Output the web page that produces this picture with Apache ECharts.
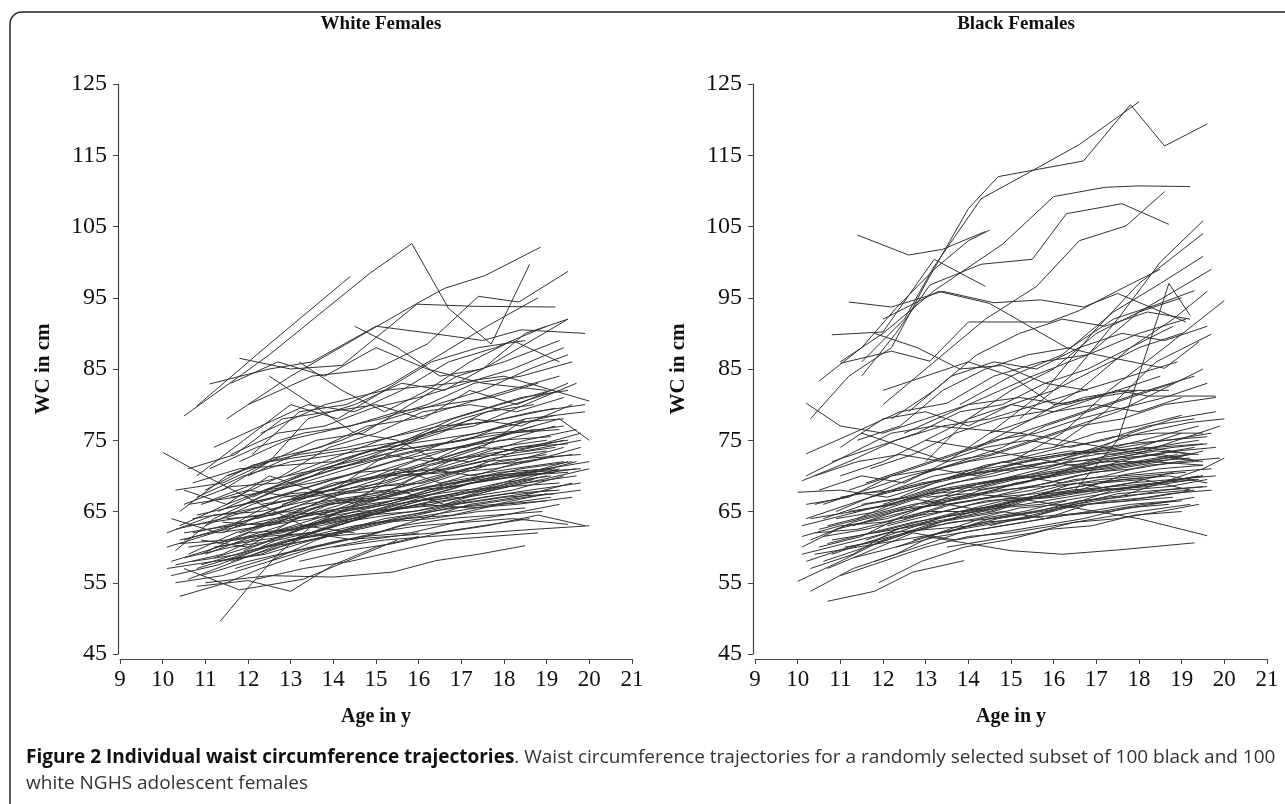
<!DOCTYPE html>
<html>
<head>
<meta charset="utf-8">
<script src="https://cdn.jsdelivr.net/npm/echarts@6/dist/echarts.min.js"></script>
<style>
html,body{margin:0;padding:0;background:#fff;}
#chart{width:1285px;height:804px;}
</style>
</head>
<body>
<div id="chart"></div>
<script>
// ---------- DATA ----------
const panelTitles = ["White Females", "Black Females"];
const xTicks = [9,10,11,12,13,14,15,16,17,18,19,20,21];
const yTicks = [45,55,65,75,85,95,105,115,125];
const xAxisTitle = "Age in y";
const yAxisTitle = "WC in cm";
const captionBold = "Figure 2 Individual waist circumference trajectories";
const captionRest = ". Waist circumference trajectories for a randomly selected subset of 100 black and 100";
const captionLine2 = "white NGHS adolescent females";

// each trajectory: [age, waist circumference]
const whiteTrajectories = [
[[10.5,78.4],[12.5,87],[14.85,98.4],[15.84,102.6],[16.7,93.5],[17.7,88.5],[18.6,99.7]],
[[10.8,79.8],[12.4,88],[14.4,98]],
[[11.5,78],[13,84],[14.85,90.4],[15.96,94.2],[16.6,96.3],[17.55,98.1],[18.86,102.1]],
[[11.8,86.5],[13,85],[14.2,85.5],[15.96,94.1],[17.3,93.8],[19.2,93.7]],
[[12,80],[13.5,84],[15,85],[16.2,88.5],[17.4,95.2],[18.35,94.4],[19.5,98.7]],
[[11.1,82.9],[12.5,85],[13.5,86],[15,91],[16.3,90],[17.5,89],[18.4,90.5],[19.9,90]],
[[12.3,76],[13.8,80],[15.2,82],[16.8,83],[18,84],[20,80.5]],
[[10.0,73.3],[11,70],[12.3,66],[13.3,63],[14.5,62]],
[[11.35,49.6],[12,54.3],[12.7,59],[13.5,63],[14.5,66],[15.5,68]],
[[10.4,53.1],[11.5,55],[12.3,57],[13.5,59.5],[14.8,61],[16,62]],
[[11,55],[12.5,56],[14,55.8],[15.4,56.5],[16.4,58.1],[17.4,59],[18.5,60.2]],
[[10.8,54.5],[12,55.3],[13,53.8],[14,57.5],[15,60],[16,61.5]],
[[10.5,57],[11.8,54],[13.3,55.5],[14.3,58],[15.5,61]],
[[10.3,59.5],[11.2,64],[12.3,67],[13.5,70],[14.6,72],[15.8,75],[17,78],[18.2,80],[19.3,82]],
[[10.4,65],[11.5,70],[12.5,72],[13.4,78],[14.5,80],[15.6,83],[16.6,82],[17.8,86],[19.5,92]],
[[10.5,62],[11.6,63],[12.8,67],[14,68],[15,72],[16.2,76],[17.3,77],[18.5,80],[19.7,83]],
[[10.6,60],[11.7,61],[12.8,63],[13.9,66],[15,67],[16,70],[17.2,72],[18.3,74],[19.5,75]],
[[10.7,58],[11.8,59],[12.9,61],[14,62],[15.2,64],[16.3,65],[17.4,66],[18.5,67],[19.8,68]],
[[10.2,56],[11.3,57.5],[12.4,60],[13.5,61],[14.6,63],[15.7,64],[16.8,64.5],[17.9,66],[19,66.5]],
[[10.9,61],[12,60],[13.1,64],[14.2,66],[15.3,69],[16.4,71],[17.5,73],[18.6,74],[19.8,76]],
[[11,63],[12.1,66],[13.2,68],[14.3,70],[15.4,72],[16.5,73.5],[17.6,75],[18.7,77]],
[[10.3,57.5],[11.4,59],[12.5,62],[13.6,64],[14.7,66],[15.8,68],[16.9,69],[18,70],[19.2,71]],
[[11.2,60],[12.3,61],[13.4,62],[14.5,61],[15.6,63],[16.7,64],[17.8,64.5],[18.9,65]],
[[10.6,66],[11.7,67],[12.8,70],[13.9,74],[15,76],[16.1,79],[17.2,80],[18.3,79],[19.4,81]],
[[11.4,68],[12.5,72],[13.6,75],[14.7,76],[15.8,80],[16.9,84],[18,86],[19.3,89]],
[[10.8,70],[11.9,75],[13,80],[14.1,78],[15.2,82],[16.3,86],[17.4,88],[18.5,89]],
[[12.1,73],[13.2,79],[14.3,80],[15.4,83],[16.5,87],[17.6,91],[18.8,95]],
[[10.7,64],[11.8,65],[12.9,66.5],[14,69],[15.1,70],[16.2,71],[17.3,70],[18.4,72],[19.6,73]],
[[10.4,61],[11.5,62.5],[12.6,64],[13.7,65],[14.8,66],[15.9,67],[17,68],[18.1,68.5],[19.3,69]],
[[11.6,58],[12.7,60],[13.8,61.5],[14.9,62],[16,63],[17.1,63.5],[18.2,64],[19.5,63.2]],
[[10.9,56],[12,58],[13.1,59.5],[14.2,61],[15.3,61.5],[16.4,62],[17.5,63],[18.6,64]],
[[11.8,62],[12.9,64],[14,65],[15.1,66],[16.2,68],[17.3,69],[18.4,70],[19.7,72]],
[[10.1,60],[11.2,62],[12.3,64.5],[13.4,67],[14.5,68],[15.6,70],[16.7,70.5],[17.8,71],[19,72.5]],
[[11.3,65],[12.4,68],[13.5,69],[14.6,70.5],[15.7,71],[16.8,73],[17.9,75],[19.1,75.5]],
[[12.2,64],[13.3,66],[14.4,67],[15.5,68],[16.6,66],[17.7,68],[18.9,69.5],[20,71]],
[[10.5,58.5],[11.6,60],[12.7,61],[13.8,62.5],[14.9,64.5],[16,66],[17.1,67],[18.2,68],[19.4,70]],
[[11.1,71],[12.2,74],[13.3,76],[14.4,77],[15.5,79],[16.6,80],[17.7,81],[18.8,83]],
[[10.8,67],[11.9,70],[13,72],[14.1,73],[15.2,74],[16.3,75],[17.4,76],[18.5,78],[19.9,79]],
[[12.4,68],[13.5,70],[14.6,73],[15.7,75],[16.8,78],[17.9,80],[19.1,82]],
[[11.5,64],[12.6,64.5],[13.7,67],[14.8,69],[15.9,71],[17,74],[18.1,76],[19.3,78],[20,75]],
[[10.6,63],[11.7,64],[12.8,65],[13.9,64.5],[15,66],[16.1,67.5],[17.2,69],[18.3,70],[19.5,70.5]],
[[11.9,66],[13,69],[14.1,71],[15.2,73],[16.3,72],[17.4,74],[18.5,73.5],[19.8,75]],
[[10.3,55],[11.4,56],[12.5,58],[13.6,60],[14.7,61.5],[15.8,62],[16.9,63.5],[18,64.5],[19.3,66]],
[[11.7,57],[12.8,59],[13.9,60.5],[15,62],[16.1,64],[17.2,66],[18.3,67],[19.6,69]],
[[10.2,64],[11.3,62],[12.4,63],[13.5,64],[14.6,65],[15.7,65.5],[16.8,66],[17.9,67],[19.1,68]],
[[12.3,60],[13.4,63],[14.5,65],[15.6,66.5],[16.7,68],[17.8,70],[19,71],[20,72]],
[[11,59],[12.1,61.5],[13.2,63],[14.3,64],[15.4,66],[16.5,67],[17.6,68],[18.7,69.5]],
[[10.7,69],[11.8,71],[12.9,71.5],[14,72],[15.1,74],[16.2,76],[17.3,78],[18.4,77],[19.6,80]],
[[11.4,62],[12.5,65],[13.6,68],[14.7,70],[15.8,72],[16.9,74],[18,75],[19.2,77]],
[[10.9,66],[12,68],[13.1,67],[14.2,69],[15.3,70],[16.4,70.5],[17.5,72],[18.6,72.5],[19.8,73]],
[[12,70],[13.1,73],[14.2,75],[15.3,78],[16.4,80],[17.5,82],[18.6,85],[19.5,87]],
[[11.2,74],[12.3,77],[13.4,80],[14.5,79],[15.6,82],[16.7,86],[17.8,88],[19,91]],
[[10.5,61],[11.6,63],[12.7,63.5],[13.8,66],[14.9,67.5],[16,69],[17.1,71],[18.2,72],[19.4,74]],
[[12.6,62],[13.7,63],[14.8,64.5],[15.9,65],[17,66.5],[18.1,67.5],[19.3,68]],
[[10.8,57],[11.9,59],[13,61],[14.1,62],[15.2,63.5],[16.3,64],[17.4,65],[18.5,65.5]],
[[11.6,67],[12.7,68],[13.8,70],[14.9,72],[16,73.5],[17.1,74],[18.2,76],[19.4,77]],
[[10.3,68],[11.4,69],[12.5,72],[13.6,73],[14.7,74],[15.8,75],[16.9,77],[18,78],[19.2,79.5]],
[[13,61],[14.1,63],[15.2,65],[16.3,67],[17.4,68],[18.5,70],[19.7,71]],
[[11.3,60.5],[12.4,63],[13.5,64.5],[14.6,66],[15.7,68],[16.8,70],[17.9,72],[19,73]],
[[10.6,55.5],[11.7,58],[12.8,60.5],[13.9,63],[15,65],[16.1,67],[17.2,69],[18.3,70],[19.5,72]],
[[12.5,58],[13.6,61],[14.7,63],[15.8,64.5],[16.9,66],[18,67],[19.2,67.5]],
[[11,68],[12.1,71.5],[13.2,73],[14.3,74],[15.4,75.5],[16.5,77],[17.6,77.5],[18.7,79],[19.9,80]],
[[10.4,63],[11.5,66],[12.6,68.5],[13.7,71],[14.8,72.5],[15.9,74],[17,75],[18.1,76],[19.3,76.5]],
[[11.8,72],[12.9,75],[14,76.5],[15.1,78],[16.2,80],[17.3,83],[18.4,84],[19.6,86]],
[[10.9,59],[12,62],[13.1,62.5],[14.2,65],[15.3,66],[16.4,68],[17.5,70],[18.6,70.5],[19.8,71]],
[[12.2,55.5],[13.3,57],[14.4,58],[15.5,59.5],[16.6,61],[17.7,61.5],[18.8,62]],
[[14,60],[15.2,61],[16.3,61.5],[17.5,62],[18.7,62.5],[20,63]],
[[13.2,58],[14.3,59.5],[15.4,60.5],[16.5,62],[17.6,63],[18.8,64.5],[19.9,63]],
[[11.5,70],[12.6,72.5],[13.7,74],[14.8,77],[15.9,78],[17,80],[18.1,82],[19.3,84]],
[[10.1,62],[11.2,64.5],[12.3,65],[13.4,66.5],[14.5,68],[15.6,69],[16.7,72],[17.8,74],[19,75]],
[[12.8,66],[13.9,68],[15,70],[16.1,72.5],[17.2,72],[18.3,74],[19.5,74.5]],
[[11.7,61],[12.8,62],[13.9,64],[15,65],[16.1,66],[17.2,65.5],[18.3,66],[19.6,67]],
[[10.6,71],[11.7,73],[12.8,78],[13.9,79],[15,80],[16.1,78],[17.2,82],[18.3,80],[19.5,83]],
[[12.1,67],[13.2,70],[14.3,72],[15.4,74],[16.5,76],[17.6,79],[18.7,80]],
[[11.3,58],[12.4,59],[13.5,61],[14.6,62.5],[15.7,64],[16.8,65],[17.9,66],[19.1,67]],
[[11.6,83],[12.7,86],[13.8,84],[15,88],[16.2,85],[17.5,83],[19,82]],
[[12.5,84],[13.5,80],[14.5,76],[15.5,75],[16.5,72],[17.5,74],[18.5,78]],
[[10.5,68],[11.5,66],[12.5,70],[13.5,68],[14.5,66],[15.5,71],[16.5,69],[17.5,70]],
[[14.5,91],[15.5,88],[16.5,84],[17.5,85],[18.5,90],[19.5,92]],
[[13.2,86],[14.2,82],[15.2,79],[16.2,82],[17.2,86],[18.2,89],[19.3,86]],
[[10.3,62.5],[11.4,64],[12.5,66],[13.6,67.5],[14.7,69.5],[15.8,71],[16.9,72.5],[18,73],[19.2,74]],
[[10.8,64.5],[11.9,66],[13,67.5],[14.1,68],[15.2,69],[16.3,71.5],[17.4,73],[18.5,75],[19.7,76.5]],
[[11.2,58.5],[12.3,60.5],[13.4,63],[14.5,64],[15.6,65.5],[16.7,67],[17.8,68.5],[19,70]],
[[10.6,59],[11.7,62],[12.8,64],[13.9,67],[15,68.5],[16.1,69],[17.2,71],[18.3,73.5],[19.4,75]],
[[12,62.5],[13.1,65],[14.2,67.5],[15.3,68],[16.4,70],[17.5,71.5],[18.6,72],[19.8,74]],
[[10.4,60.5],[11.5,61],[12.6,62],[13.7,63.5],[14.8,65],[15.9,66.5],[17,67],[18.1,69],[19.3,71]],
[[11.5,65.5],[12.6,67],[13.7,69],[14.8,71],[15.9,73],[17,75.5],[18.1,77],[19.2,78.5]],
[[10.9,57.5],[12,59.5],[13.1,61],[14.2,63.5],[15.3,64.5],[16.4,65.5],[17.5,67],[18.6,68],[19.8,69]],
[[12.7,64],[13.8,66],[14.9,66.5],[16,68],[17.1,70],[18.2,71],[19.4,72]],
[[10.2,58],[11.3,60],[12.4,61.5],[13.5,62],[14.6,64],[15.7,66],[16.8,67.5],[17.9,69],[19.1,70]],
[[11.1,66.5],[12.2,69],[13.3,70.5],[14.4,71.5],[15.5,73],[16.6,74.5],[17.7,76],[18.8,76.5]],
[[13.5,64],[14.6,66.5],[15.7,67],[16.8,69],[17.9,70.5],[19.1,71]],
[[10.7,62],[11.8,63.5],[12.9,65],[14,66.5],[15.1,67],[16.2,68.5],[17.3,69.5],[18.4,71],[19.6,72]],
[[11.9,59.5],[13,62],[14.1,64],[15.2,65],[16.3,66],[17.4,67.5],[18.5,69],[19.7,70]],
[[10.5,66],[11.6,68.5],[12.7,69],[13.8,71.5],[14.9,73.5],[16,74],[17.1,75],[18.2,77.5],[19.4,78]],
[[12.3,66],[13.4,67],[14.5,69],[15.6,70.5],[16.7,71],[17.8,72.5],[19,73.5]],
[[11.4,63.5],[12.5,63],[13.6,65.5],[14.7,67],[15.8,68],[16.9,68.5],[18,70],[19.2,70.5]],
[[10.1,57],[11.2,58],[12.3,59],[13.4,61.5],[14.5,63],[15.6,64],[16.7,65.5],[17.8,66],[19,67.5]],
[[12.9,70],[14,72.5],[15.1,75],[16.2,77],[17.3,79],[18.4,81],[19.5,82]],
[[11.6,73],[12.7,76],[13.8,77],[14.9,79.5],[16,81],[17.1,83],[18.2,85],[19.4,88]]
];

const blackTrajectories = [
[[10.3,78],[11.2,84],[12.2,88],[13,97],[14,107.5],[14.7,112],[16.7,114.2],[17.8,122.1],[18.6,116.3],[19.6,119.4]],
[[11.5,86],[12.5,92],[13.2,99.4],[14.3,108.9],[15.4,112.5],[16.6,116.5],[18,122.5]],
[[11,86],[12,90],[13.2,96],[14.8,102.5],[16,109.2],[17.2,110.5],[18,110.7],[19.2,110.6]],
[[11.5,84],[12.3,90],[13.1,96.8],[14.3,99.7],[15.5,100.4],[16.3,106.8],[17.6,108.2],[18.7,105.3]],
[[12,80],[13.2,86],[14.4,92],[15.6,96.6],[16.6,103],[17.7,105.1],[18.6,109.9]],
[[11.4,103.8],[12.6,101],[13.4,101.8],[14.4,104.3]],
[[10.8,89.8],[12,90.2],[13.2,100.4],[14.4,96.6]],
[[11.2,94.4],[12.2,93.7],[13.4,95.9],[14.6,94.3],[15.7,94.7],[16.7,93.7],[17.5,95.6],[19.1,91.6]],
[[15.2,78],[16.4,84],[17.5,92],[18.5,100],[19.5,105.8]],
[[14.5,76],[15.8,82],[16.9,90],[18,97],[19.5,104]],
[[13.8,80],[15,84],[16.2,87],[17.4,93],[18.5,97],[19.5,100.8]],
[[12.5,76],[14,80],[15.5,84],[16.8,87],[18,93],[19.7,99]],
[[14.2,74],[15.5,78],[16.6,82],[17.8,88],[18.8,92],[19.6,95.9]],
[[15,72],[16.2,76],[17.3,82],[18.6,88],[20,94.6]],
[[16,74],[17.2,79],[18.4,86],[19.7,89.9]],
[[16.5,68],[17.5,75],[18.7,97],[19.2,92.5]],
[[10.5,83.3],[11.5,88],[12.3,93.5],[13.2,99],[14,103],[14.5,104.5]],
[[11,85.8],[12.2,87.5],[13.1,86.1],[14,91.6],[15.9,91.6],[16.6,93.2],[17.5,96],[18.5,99]],
[[12,92],[13.3,95.9],[14.5,94.2],[16.3,88],[17,87],[18.6,85.1],[19.4,88.8]],
[[10.2,80.2],[11,77],[12,76],[13,78],[14,80],[15.2,81],[16.3,80],[17.5,82],[18.2,81.2],[19.8,81.2]],
[[10.2,73.1],[11.3,76],[12.4,79],[13.5,80.2],[14.6,84],[15.7,86],[16.8,87],[18,90],[19.1,92]],
[[10.1,69.3],[11.2,72],[12.3,75],[13.4,77],[14.5,78],[15.6,80],[16.7,82],[17.8,84],[18.9,86]],
[[10,67.7],[11,68],[12.1,67],[13.2,69],[14.3,70.5],[15.4,71],[16.5,72],[17.6,73],[18.8,74],[19.6,74.5]],
[[10,55.2],[11,58],[12,61],[13,63],[14,64.5],[15,66]],
[[10.3,53.8],[11.3,57],[12.3,59],[13.3,62],[14.3,64],[15.3,65],[16.3,66.5]],
[[10.7,52.4],[11.8,53.8],[12.7,56.5],[13.9,58.1]],
[[13,61.5],[14,60.5],[15,59.5],[16.2,59],[17.5,59.6],[19.3,60.6]],
[[10.1,60],[11.1,63],[12.1,64],[13.1,66],[14.1,67],[15.1,69],[16.1,70],[17.1,71],[18.1,72],[19.2,73]],
[[10.4,62],[11.4,62.5],[12.4,64],[13.4,65],[14.4,66.5],[15.4,67],[16.4,68],[17.4,68.5],[18.4,69],[19.5,70]],
[[10.6,58],[11.6,60],[12.6,62],[13.6,63.5],[14.6,64],[15.6,65],[16.6,66.5],[17.6,67],[18.6,68],[19.6,68.5]],
[[10.2,64],[11.2,66],[12.2,68],[13.2,70],[14.2,71],[15.2,72.5],[16.2,74],[17.2,75],[18.2,77],[19.3,78]],
[[10.8,61],[11.8,62],[12.8,63],[13.8,64],[14.8,65],[15.8,64],[16.8,66],[17.8,66.5],[18.8,67]],
[[11,56],[12,58],[13,60],[14,61.5],[15,62],[16,63],[17,64],[18,65],[19.2,66]],
[[10.5,60],[11.5,61.5],[12.5,64.5],[13.5,67],[14.5,69],[15.5,70],[16.5,71],[17.5,72.5],[18.5,73],[19.5,72]],
[[11.3,63],[12.3,65],[13.3,66],[14.3,68],[15.3,69],[16.3,70.5],[17.3,71],[18.3,72],[19.5,71.5]],
[[10.3,57],[11.3,59],[12.3,62.5],[13.3,64],[14.3,65.5],[15.3,66],[16.3,67],[17.3,68],[18.4,69],[19.4,69.5]],
[[10.9,65],[11.9,67.5],[12.9,69],[13.9,70],[14.9,71],[15.9,72],[16.9,71],[17.9,72],[18.9,73]],
[[11.6,61],[12.6,63],[13.6,64],[14.6,65],[15.6,67],[16.6,68],[17.6,70],[18.6,70.5],[19.7,71]],
[[10.1,59],[11.1,60.5],[12.1,62],[13.1,62.5],[14.1,63],[15.1,64],[16.1,64.5],[17.1,65],[18.1,66],[19,66.5]],
[[10.4,70],[11.4,72],[12.4,73],[13.4,72],[14.4,74],[15.4,75],[16.4,74],[17.4,75.5],[18.4,76],[19.5,76]],
[[12,66],[13,68],[14,69.5],[15,71],[16,72],[17,74],[18,76],[19.2,77.5],[20,78]],
[[10.7,63],[11.7,64.5],[12.7,66],[13.7,67],[14.7,68],[15.7,68.5],[16.7,69],[17.7,69.5],[18.7,70],[19.6,69]],
[[11.8,58],[12.8,60],[13.8,62],[14.8,63],[15.8,64],[16.8,65],[17.8,66],[18.8,66.5]],
[[10.2,66],[11.2,67],[12.2,70],[13.2,72],[14.2,74],[15.2,76],[16.2,78],[17.2,80],[18.2,82],[19.3,84]],
[[11,70],[12,72],[13,75],[14,78],[15,80],[16,82],[17,85],[18,88],[19,90]],
[[10.6,66],[11.6,68],[12.6,70],[13.6,71.5],[14.6,73],[15.6,75],[16.6,77],[17.6,78],[18.6,80],[19.8,81]],
[[12.5,64],[13.5,66],[14.5,67],[15.5,68.5],[16.5,70],[17.5,71],[18.5,72],[19.5,73.5]],
[[11.2,68],[12.2,70],[13.2,71],[14.2,70],[15.2,72],[16.2,73],[17.2,73.5],[18.2,74],[19.3,73]],
[[10.8,72],[11.8,74],[12.8,76],[13.8,79],[14.8,80],[15.8,83],[16.8,85],[17.8,88],[18.8,91]],
[[11.4,75],[12.4,77],[13.4,82],[14.4,85],[15.4,87],[16.4,88],[17.4,92],[18.4,94],[19.3,96]],
[[12.2,78],[13.2,82],[14.2,87],[15.2,90],[16.2,92],[17.2,91],[18.2,93],[19.2,92]],
[[10.5,68],[11.5,70],[12.5,69],[13.5,72],[14.5,76],[15.5,78],[16.5,80],[17.5,82],[18.5,84]],
[[13.5,62],[14.5,64],[15.5,65],[16.5,66],[17.5,67],[18.5,69],[19.5,71],[20,72.5]],
[[11.1,60],[12.1,61],[13.1,63],[14.1,65],[15.1,66.5],[16.1,68],[17.1,69],[18.1,69.5],[19.2,68]],
[[10.3,64],[11.3,65],[12.3,66],[13.3,68],[14.3,68.5],[15.3,70],[16.3,71],[17.3,73],[18.3,74],[19.4,75]],
[[12.8,70],[13.8,72],[14.8,74],[15.8,77],[16.8,79],[17.8,81],[18.8,83]],
[[11.9,55],[12.9,58],[13.9,60],[14.9,61],[15.9,62.5],[16.9,63],[17.9,64.5],[19,65]],
[[10.9,62.5],[11.9,64],[12.9,65.5],[13.9,67],[14.9,68],[15.9,69],[16.9,70.5],[17.9,71],[18.9,72],[19.9,72.5]],
[[13,75],[14,74],[15,73],[16,72],[17,73],[18,74],[19,76]],
[[11.5,66],[12.5,67],[13.5,66],[14.5,65],[15.5,67],[16.5,69],[17.5,68],[18.5,69],[19.5,70]],
[[10.4,59],[11.4,60],[12.4,61],[13.4,62],[14.4,63.5],[15.4,64],[16.4,66],[17.4,68],[18.4,69],[19.4,70]],
[[13,67],[14,67.5],[15,67],[16,66],[17,65],[18,64],[19.6,61.6]],
[[10.6,64],[11.6,66],[12.6,67],[13.6,69],[14.6,70],[15.6,71.5],[16.6,73],[17.6,74],[18.6,75],[19.6,75.5]],
[[12.3,60],[13.3,62],[14.3,63],[15.3,64],[16.3,65.5],[17.3,66.5],[18.3,67],[19.3,68]],
[[11.7,71],[12.7,73],[13.7,76],[14.7,78],[15.7,79],[16.7,81],[17.7,82],[18.7,82]],
[[10.1,61.5],[11,63],[12,63.5],[13,65],[14,65],[15,66.5],[16,67],[17,68],[18,68.5]],
[[12.6,79],[13.6,84],[14.6,86],[15.6,85],[16.6,88],[17.6,90],[18.6,89],[19.6,91]],
[[11,74],[12,78],[13,79],[14,77],[15,80],[16,79],[17,80],[18,79],[19,81]],
[[13.8,70],[14.8,72],[15.8,71],[16.8,73],[17.8,76],[18.8,78],[19.8,79]],
[[10.7,57],[11.7,59.5],[12.7,62],[13.7,61],[14.7,62],[15.7,63],[16.7,64],[17.7,65.5],[18.7,66]],
[[11.2,65],[12.2,66],[13.2,68],[14.2,69],[15.2,70],[16.2,69],[17.2,70],[18.2,71.5],[19.3,72]],
[[12.9,66],[13.9,67],[14.9,68.5],[15.9,70],[16.9,72],[17.9,73],[18.9,75],[19.9,77]],
[[10.2,70],[11.2,73],[12.2,76],[13.2,77],[14.2,76.5],[15.2,76],[16.2,75],[17.2,74],[18.2,73],[19.4,72]],
[[13.5,60],[14.5,61],[15.5,62],[16.5,63.5],[17.5,64],[18.5,65],[19.4,66]],
[[14.5,63],[15.5,64.5],[16.5,66],[17.5,67.5],[18.5,68],[19.5,68.5]],
[[11.8,90],[12.8,88],[13.8,85],[14.8,85.5],[15.8,83],[16.8,82]],
[[12,82],[13,84],[14,86],[15,84],[16,80],[17,81],[18,82]],
[[13,72],[14,78],[15,82],[16,85],[17,90],[18,93],[19,95]],
[[11.5,76],[12.5,74],[13.5,72],[14.5,73],[15.5,75],[16.5,77],[17.5,79],[18.5,82],[19.5,85]],
[[10.3,61],[11.3,63.5],[12.3,65],[13.3,67],[14.3,69],[15.3,70],[16.3,71.5],[17.3,72],[18.3,73],[19.3,74]],
[[10.8,59],[11.8,61],[12.8,63],[13.8,65],[14.8,66],[15.8,67.5],[16.8,68],[17.8,69],[18.8,70.5]],
[[11.4,64],[12.4,66.5],[13.4,68],[14.4,69],[15.4,70.5],[16.4,72],[17.4,72.5],[18.4,73.5],[19.4,73]],
[[10.5,62.5],[11.5,64],[12.5,65.5],[13.5,66],[14.5,67],[15.5,68],[16.5,69.5],[17.5,70],[18.5,71],[19.5,71.5]],
[[12.1,63],[13.1,64.5],[14.1,66],[15.1,67],[16.1,68.5],[17.1,69.5],[18.1,70],[19.1,70.5]],
[[10.2,58],[11.2,60],[12.2,61.5],[13.2,63],[14.2,64],[15.2,65.5],[16.2,66],[17.2,67],[18.2,67.5],[19.2,68]],
[[11.7,67],[12.7,68.5],[13.7,70],[14.7,71],[15.7,72.5],[16.7,73.5],[17.7,74.5],[18.7,75],[19.7,76]],
[[10.6,61.5],[11.6,62.5],[12.6,64],[13.6,66],[14.6,67],[15.6,67.5],[16.6,68.5],[17.6,69.5],[18.6,70]],
[[13.2,64],[14.2,65],[15.2,66.5],[16.2,67.5],[17.2,68],[18.2,68.5],[19.3,69.5]],
[[10.9,64],[11.9,65],[12.9,67],[13.9,68.5],[14.9,69.5],[15.9,70],[16.9,71],[17.9,72.5],[18.9,73.5],[19.8,74]],
[[11.3,58.5],[12.3,60],[13.3,61.5],[14.3,62.5],[15.3,63.5],[16.3,64.5],[17.3,65],[18.3,66],[19.3,67]],
[[12.4,67],[13.4,69.5],[14.4,71],[15.4,72],[16.4,73],[17.4,74],[18.4,75.5],[19.4,77]],
[[10.4,66],[11.4,67.5],[12.4,68],[13.4,69.5],[14.4,71.5],[15.4,72.5],[16.4,73.5],[17.4,73],[18.4,74],[19.5,74.5]],
[[11.8,62],[12.8,63.5],[13.8,65],[14.8,66.5],[15.8,67],[16.8,68],[17.8,69],[18.8,69.5],[19.8,70]],
[[10.1,63],[11.1,64.5],[12.1,66],[13.1,67.5],[14.1,68],[15.1,69.5],[16.1,70.5],[17.1,72],[18.1,72],[19.1,73]],
[[12.7,61],[13.7,62.5],[14.7,64],[15.7,65],[16.7,66],[17.7,66.5],[18.7,67.5],[19.7,68]],
[[11,67],[12,68],[13,70.5],[14,72],[15,73],[16,74],[17,76],[18,77],[19,78.5]],
[[14.2,68],[15.2,69],[16.2,70.5],[17.2,71.5],[18.2,72],[19.2,72.5]],
[[10.7,60.5],[11.7,62],[12.7,63.5],[13.7,64.5],[14.7,65.5],[15.7,66],[16.7,67],[17.7,68],[18.7,68.5],[19.6,69.5]],
[[11.6,69],[12.6,71],[13.6,73],[14.6,75],[15.6,76],[16.6,78],[17.6,79.5],[18.6,81],[19.6,83]]
];

// ---------- CHART ----------
const chart = echarts.init(document.getElementById('chart'), null, {renderer: 'canvas'});
const serif = '"Liberation Serif", "DejaVu Serif", serif';
const sans = '"Open Sans", "Noto Sans", sans-serif';
const panels = [whiteTrajectories, blackTrajectories];
const grids = [
  {left: 120, top: 84, width: 512, height: 570},
  {left: 755, top: 84, width: 512, height: 570}
];
const xAxes = [], yAxes = [], series = [], titles = [];
panels.forEach((traj, i) => {
  xAxes.push({
    gridIndex: i, type: 'value', min: xTicks[0], max: xTicks[xTicks.length-1], interval: 1,
    offset: 5,
    name: xAxisTitle, nameLocation: 'middle', nameGap: 48,
    nameTextStyle: {fontFamily: serif, fontSize: 20, fontWeight: 'bold', color: '#111'},
    axisLine: {lineStyle: {color: '#444', width: 1.2}},
    axisTick: {length: 5, lineStyle: {color: '#444'}},
    axisLabel: {fontFamily: serif, fontSize: 23, color: '#111', margin: 9},
    splitLine: {show: false}
  });
  yAxes.push({
    gridIndex: i, type: 'value', min: yTicks[0], max: yTicks[yTicks.length-1], interval: 10,
    offset: 2,
    name: yAxisTitle, nameLocation: 'middle', nameGap: 64, nameRotate: 90,
    nameTextStyle: {fontFamily: serif, fontSize: 21, fontWeight: 'bold', color: '#111'},
    axisLine: {show: true, lineStyle: {color: '#444', width: 1.2}},
    axisTick: {show: true, length: 5, lineStyle: {color: '#444'}},
    axisLabel: {fontFamily: serif, fontSize: 24, color: '#111', margin: 11},
    splitLine: {show: false}
  });
  titles.push({
    text: panelTitles[i], left: grids[i].left + grids[i].width/2, top: 10, textAlign: 'center',
    textStyle: {fontFamily: serif, fontSize: 19, fontWeight: 'bold', color: '#111'}
  });
  traj.forEach(t => {
    series.push({
      type: 'line', xAxisIndex: i, yAxisIndex: i, data: t,
      showSymbol: false, symbol: 'none', silent: true, animation: false,
      lineStyle: {color: '#333', width: 1}
    });
  });
});

chart.setOption({
  animation: false,
  backgroundColor: '#fff',
  title: titles,
  grid: grids,
  xAxis: xAxes,
  yAxis: yAxes,
  series: series,
  graphic: [
    {type: 'rect', shape: {x: 10, y: 12, width: 1320, height: 860, r: 12}, style: {fill: null, stroke: '#222', lineWidth: 1.5}, silent: true},
    {type: 'text', left: 26, top: 748, style: {
      text: '{b|' + captionBold + '}{n|' + captionRest + '}',
      rich: {
        b: {fontFamily: sans, fontSize: 19, fontWeight: 'bold', fill: '#111'},
        n: {fontFamily: sans, fontSize: 19, fill: '#333'}
      }
    }},
    {type: 'text', left: 26, top: 774, style: {
      text: captionLine2, fontFamily: sans, fontSize: 19, fill: '#333'
    }}
  ]
});
</script>
</body>
</html>
